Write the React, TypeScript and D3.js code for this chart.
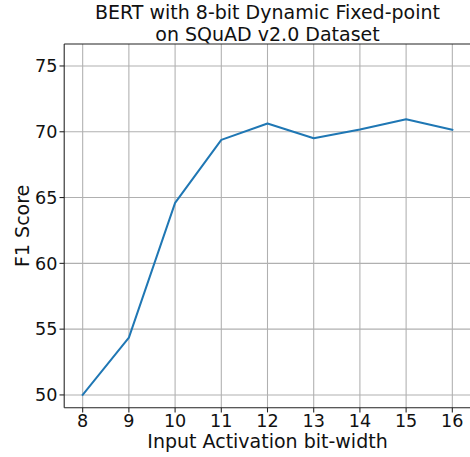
import React from "react";
import * as d3 from "d3";

const bitWidths: number[] = [8, 9, 10, 11, 12, 13, 14, 15, 16];
const f1Scores: number[] = [50.0, 54.35, 64.6, 69.38, 70.63, 69.51, 70.17, 70.95, 70.15];
const yTicks: number[] = [50, 55, 60, 65, 70, 75];
const xTicks: number[] = [8, 9, 10, 11, 12, 13, 14, 15, 16];
const titleLines: string[] = ["BERT with 8-bit Dynamic Fixed-point", "on SQuAD v2.0 Dataset"];
const xLabel = "Input Activation bit-width";
const yLabel = "F1 Score";

const W = 470;
const H = 457;
const left = 64.2;
const right = 470.8;
const top = 44;
const bottom = 407.7;
const font = "DejaVu Sans, sans-serif";

export default function App() {
  const x = d3.scaleLinear().domain([7.6, 16.4]).range([left, right]);
  const y = d3.scaleLinear().domain([49.03, 76.67]).range([bottom, top]);
  const line = d3
    .line<number>()
    .x((_, i) => x(bitWidths[i]))
    .y((d) => y(d));
  const cx = (left + right) / 2;
  const cy = (top + bottom) / 2;
  return (
    <svg
      width={W}
      height={H}
      style={{ position: "absolute", left: 0, top: 0, display: "block", background: "#fff" }}
      fontFamily={font}
    >
      <rect x={0} y={0} width={W} height={H} fill="#fff" />
      {xTicks.map((t) => (
        <line key={"gx" + t} x1={x(t)} x2={x(t)} y1={top} y2={bottom} stroke="#b0b0b0" strokeWidth={1.07} />
      ))}
      {yTicks.map((t) => (
        <line key={"gy" + t} x1={left} x2={right} y1={y(t)} y2={y(t)} stroke="#b0b0b0" strokeWidth={1.07} />
      ))}
      <path d={line(f1Scores) || ""} fill="none" stroke="#1f77b4" strokeWidth={2} strokeLinejoin="round" strokeLinecap="square" />
      <line x1={left} x2={right} y1={top} y2={top} stroke="#222" strokeWidth={1.07} />
      <line x1={left} x2={right} y1={bottom} y2={bottom} stroke="#222" strokeWidth={1.07} />
      <line x1={left} x2={left} y1={top} y2={bottom} stroke="#222" strokeWidth={1.07} />
      <line x1={right} x2={right} y1={top} y2={bottom} stroke="#222" strokeWidth={1.07} />
      {xTicks.map((t) => (
        <g key={"tx" + t}>
          <line x1={x(t)} x2={x(t)} y1={bottom} y2={bottom + 4.7} stroke="#222" strokeWidth={1.07} />
          <text x={x(t)} y={426.7} textAnchor="middle" fontSize={17.6} fill="#111">
            {t}
          </text>
        </g>
      ))}
      {yTicks.map((t) => (
        <g key={"ty" + t}>
          <line x1={left - 4.7} x2={left} y1={y(t)} y2={y(t)} stroke="#222" strokeWidth={1.07} />
          <text x={57.5} y={y(t)} dy="0.36em" textAnchor="end" fontSize={17.6} fill="#111">
            {t}
          </text>
        </g>
      ))}
      {titleLines.map((s, i) => (
        <text key={s} x={cx} y={19 + i * 21.5} textAnchor="middle" fontSize={19} fill="#111">
          {s}
        </text>
      ))}
      <text x={cx} y={448.3} textAnchor="middle" fontSize={19} fill="#111">
        {xLabel}
      </text>
      <text transform={`translate(28.5,${cy}) rotate(-90)`} textAnchor="middle" fontSize={19} fill="#111">
        {yLabel}
      </text>
    </svg>
  );
}
